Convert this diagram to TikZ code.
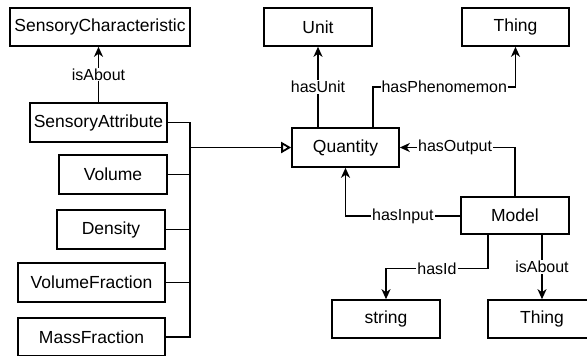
\documentclass[tikz,border=0pt]{standalone}
\usepackage{fontspec}
\setmainfont{Liberation Sans}
\usetikzlibrary{arrows.meta,calc}
\begin{document}
\begin{tikzpicture}[x=1pt,y=-1pt,
  box/.style={draw,line width=1.6pt,fill=white,inner sep=0pt,font=\fontsize{17.5}{20}\selectfont},
  arr/.style={line width=1.6pt,-{Stealth[length=10pt,width=9pt,inset=3pt]}},
  gen/.style={line width=1.8pt,-{Triangle[open,length=10pt,width=11pt]}},
  ln/.style={line width=1.6pt},
  lbl/.style={fill=white,inner sep=1pt,font=\fontsize{16}{18}\selectfont}]
\useasboundingbox (0,0) rectangle (587,356);
\clip (0,0) rectangle (587,356);
% boxes
\node[box,minimum width=180pt,minimum height=38pt] (sc) at (100,27) {SensoryCharacteristic};
\node[box,minimum width=137pt,minimum height=39pt] (sa) at (98.5,122.5) {SensoryAttribute};
\node[box,minimum width=108pt,minimum height=39pt] (vol) at (113,174.5) {Volume};
\node[box,minimum width=108pt,minimum height=39pt] (den) at (111,229.5) {Density};
\node[box,minimum width=147pt,minimum height=39pt] (vf) at (91.5,282.5) {VolumeFraction};
\node[box,minimum width=147pt,minimum height=38pt] (mf) at (91.5,337) {MassFraction};
\node[box,minimum width=108pt,minimum height=38pt] (unit) at (318,27) {Unit};
\node[box,minimum width=107pt,minimum height=38pt] (th1) at (515.5,27) {Thing};
\node[box,minimum width=107pt,minimum height=39pt] (q) at (345.5,147.5) {Quantity};
\node[box,minimum width=108pt,minimum height=37pt] (model) at (515,215.5) {Model};
\node[box,minimum width=108pt,minimum height=38pt] (str) at (386,319) {string};
\node[box,minimum width=108pt,minimum height=38pt] (th2) at (542,319) {Thing};
% generalisation bus
\coordinate (j) at (190,147.5);
\draw[ln] (sa.east) -| (j);
\draw[ln] (vol.east) -| (j);
\draw[ln] (den.east) -| (j);
\draw[ln] (vf.east) -| (j);
\draw[ln] (mf.east) -| (j);
\draw[gen] (j) -- (q.west);
% relations
\draw[arr] (sa.north) -- (sa.north |- sc.south) node[lbl,midway] {isAbout};
\draw[arr] (unit.south |- q.north) -- (unit.south) node[lbl,midway] {hasUnit};
\draw[arr] ($(q.north)+(27.5,0)$) -- ++(0,-40) -| (th1.south) node[lbl,pos=0.25] {hasPhenomemon};
\draw[arr] (model.north) |- (q.east) node[lbl,pos=0.76] {hasOutput};
\draw[arr] (model.west |- 0,216) -| (q.south) node[lbl,pos=0.25] {hasInput};
\draw[arr] ($(model.south)+(-27,0)$) -- ++(0,33.5) -| (str.north) node[lbl,pos=0.25] {hasId};
\draw[arr] (th2.north |- model.south) -- (th2.north) node[lbl,midway] {isAbout};
\end{tikzpicture}
\end{document}
